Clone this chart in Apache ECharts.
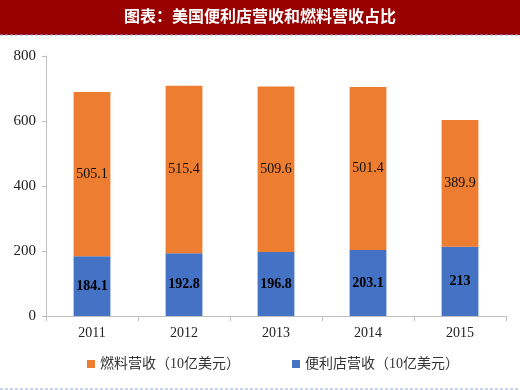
<!DOCTYPE html>
<html>
<head>
<meta charset="utf-8">
<script src="https://cdn.jsdelivr.net/npm/echarts@6/dist/echarts.min.js"></script>
<style>
html,body{margin:0;padding:0;background:#fff;}
#c{width:520px;height:390px;}
</style>
</head>
<body>
<div id="c"></div>
<script>
var categories = ['2011', '2012', '2013', '2014', '2015'];
var storeRevenue = [184.1, 192.8, 196.8, 203.1, 213];
var fuelRevenue = [505.1, 515.4, 509.6, 501.4, 389.9];
var yTicks = [0, 200, 400, 600, 800];
var titleText = '图表：美国便利店营收和燃料营收占比';
var fuelName = '燃料营收（10亿美元）';
var storeName = '便利店营收（10亿美元）';

var serif = '"Liberation Serif","Times New Roman","Noto Sans CJK SC",serif';
var chart = echarts.init(document.getElementById('c'), null, {renderer: 'canvas'});
chart.setOption({
  animation: false,
  backgroundColor: '#fff',
  graphic: [
    {type: 'rect', left: 0, top: 0, shape: {width: 520, height: 35}, style: {fill: '#990000'}, z: 0},
    {type: 'line', shape: {x1: 0, y1: 35, x2: 520, y2: 35}, style: {stroke: '#8fa8d8', lineWidth: 1, lineDash: [3, 2]}},
    {type: 'line', shape: {x1: 0, y1: 389, x2: 520, y2: 389}, style: {stroke: '#8fa8d8', lineWidth: 1, lineDash: [3, 2]}},
    {type: 'text', left: 'center', top: 8, style: {text: titleText, fill: '#fff', font: 'bold 16px "Noto Sans CJK SC", sans-serif'}}
  ],
  grid: {left: 46, right: 14, top: 56, bottom: 74},
  legend: {
    bottom: 14,
    left: 82,
    itemGap: 52,
    itemWidth: 8,
    itemHeight: 8,
    icon: 'rect',
    textStyle: {fontSize: 14, color: '#333', fontFamily: serif},
    data: [fuelName, storeName]
  },
  xAxis: {
    type: 'category',
    data: categories,
    axisLine: {lineStyle: {color: '#bfbfbf'}},
    axisTick: {show: true, alignWithLabel: false, lineStyle: {color: '#bfbfbf'}, length: 5},
    axisLabel: {color: '#222', fontSize: 14, fontFamily: serif, margin: 10}
  },
  yAxis: {
    type: 'value',
    min: yTicks[0],
    max: yTicks[yTicks.length - 1],
    interval: 200,
    axisLine: {show: true, lineStyle: {color: '#bfbfbf'}},
    axisTick: {show: true, lineStyle: {color: '#bfbfbf'}, length: 4},
    splitLine: {show: false},
    axisLabel: {color: '#222', fontSize: 15, fontFamily: serif, margin: 10}
  },
  series: [
    {
      name: storeName,
      type: 'bar',
      stack: 'a',
      barWidth: '40%',
      data: storeRevenue,
      itemStyle: {color: '#4472C4'},
      label: {show: true, position: 'inside', color: '#000', fontWeight: 'bold', fontSize: 14, fontFamily: serif}
    },
    {
      name: fuelName,
      type: 'bar',
      stack: 'a',
      barWidth: '40%',
      data: fuelRevenue,
      itemStyle: {color: '#ED7D31'},
      label: {show: true, position: 'inside', color: '#111', fontSize: 14, fontFamily: serif}
    }
  ]
});
</script>
</body>
</html>
